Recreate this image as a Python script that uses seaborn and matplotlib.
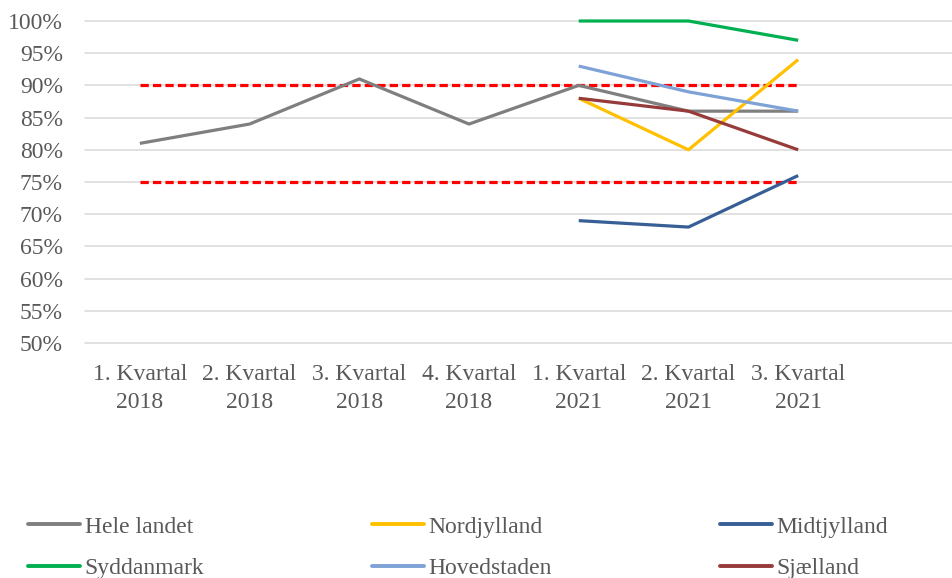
import pandas as pd
import numpy as np
import matplotlib.pyplot as plt
import matplotlib.ticker as mtick
from matplotlib.lines import Line2D
import seaborn as sns

# -- Data -----------------------------------------------------
quarters = ["1. Kvartal\n2018", "2. Kvartal\n2018", "3. Kvartal\n2018",
            "4. Kvartal\n2018", "1. Kvartal\n2021", "2. Kvartal\n2021",
            "3. Kvartal\n2021"]
quarters_2021 = quarters[4:]

hele_landet = [0.81, 0.84, 0.91, 0.84, 0.90, 0.86, 0.86]
nordjylland = [0.88, 0.80, 0.94]
midtjylland = [0.69, 0.68, 0.76]
syddanmark  = [1.00, 1.00, 0.97]
hovedstaden = [0.93, 0.89, 0.86]
sjaelland   = [0.88, 0.86, 0.80]

upper_target = [0.90] * len(quarters)
lower_target = [0.75] * len(quarters)

series_names = ["Hele landet", "Nordjylland", "Midtjylland",
                "Syddanmark", "Hovedstaden", "Sjælland"]
series_colors = {
    "Hele landet": "#7F7F7F",
    "Nordjylland": "#FFC000",
    "Midtjylland": "#375F95",
    "Syddanmark" : "#00B050",
    "Hovedstaden": "#7EA1D6",
    "Sjælland"   : "#973B3A",
}

# -- Long table -----------------------------------------------
rows = []
for q, v in zip(quarters, hele_landet):
    rows.append(("Hele landet", q, v))
for name, vals in [("Nordjylland", nordjylland), ("Midtjylland", midtjylland),
                   ("Syddanmark", syddanmark), ("Hovedstaden", hovedstaden),
                   ("Sjælland", sjaelland)]:
    for q, v in zip(quarters_2021, vals):
        rows.append((name, q, v))
df = pd.DataFrame(rows, columns=["region", "quarter", "value"])
df["pos"] = df["quarter"].map({q: i for i, q in enumerate(quarters)})

ref = pd.DataFrame({
    "pos": list(range(len(quarters))) * 2,
    "value": upper_target + lower_target,
    "line": ["upper"] * len(quarters) + ["lower"] * len(quarters),
})

# -- Plot -----------------------------------------------------
sns.set_theme(style="white")
plt.rcParams["font.family"] = ["Liberation Serif", "DejaVu Serif"]
text_color = "#595959"
fs = 17

fig = plt.figure(figsize=(9.52, 5.78), dpi=100)
ax = fig.add_axes([85 / 952, 1 - 343 / 578, 1 - 85 / 952, (343 - 21) / 578])

for name in ["upper", "lower"]:
    sub = ref[ref["line"] == name]
    sns.lineplot(data=sub, x="pos", y="value", ax=ax, color="#FF0000",
                 linewidth=2.3, dashes=False, legend=False)
for l in ax.lines:
    l.set_dashes((2.6, 1.3))

sns.lineplot(data=df, x="pos", y="value", hue="region",
             hue_order=series_names, palette=series_colors,
             linewidth=2.3, legend=False, ax=ax, sort=False)
for l in ax.lines:
    l.set_clip_on(False)
    l.set_solid_capstyle("butt")

ax.set_xlim(-0.5, (952 - 140) / 109.7)
ax.set_ylim(0.5, 1.0)
ax.yaxis.set_major_locator(mtick.MultipleLocator(0.05))
ax.yaxis.set_major_formatter(mtick.PercentFormatter(1.0, decimals=0))
ax.set_xticks(range(len(quarters)))
ax.set_xticklabels(quarters, linespacing=1.45)
ax.grid(axis="y", color="#D9D9D9", linewidth=1.1)
ax.set_axisbelow(True)
for line in ax.get_ygridlines():
    line.set_clip_on(False)
for s in ax.spines.values():
    s.set_visible(False)
ax.tick_params(axis="both", length=0, labelsize=fs, colors=text_color)
ax.tick_params(axis="x", pad=15)
ax.tick_params(axis="y", pad=16)
ax.set_xlabel("")
ax.set_ylabel("")

# legend, row-major order like the source
order = ["Hele landet", "Syddanmark", "Nordjylland",
         "Hovedstaden", "Midtjylland", "Sjælland"]
handles = [Line2D([], [], color=series_colors[n], linewidth=2.8) for n in order]
fig.legend(handles, order, loc="upper left", ncol=3,
           bbox_to_anchor=(28 / 952, 1 - 516 / 578), frameon=False,
           fontsize=fs, labelcolor=text_color, handlelength=2.2,
           handletextpad=0.2, columnspacing=7.1, labelspacing=0.85,
           borderpad=0, borderaxespad=0)

fig.savefig("out.png", dpi=100)
